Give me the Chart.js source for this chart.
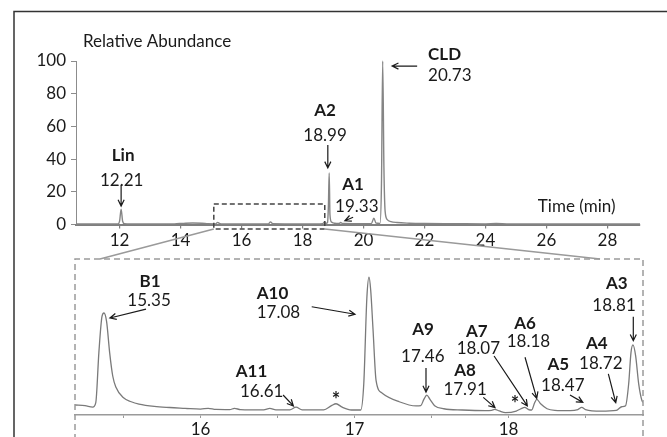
<!DOCTYPE html>
<html>
<head>
<meta charset="utf-8">
<script src="https://cdn.jsdelivr.net/npm/chart.js@4.4.0/dist/chart.umd.min.js"></script>
<style>
html,body{margin:0;padding:0;background:#fff;}
#wrap{position:relative;width:667px;height:437px;overflow:hidden;background:#fff;}
#wrap canvas{position:absolute;left:0;top:0;}
</style>
</head>
<body>
<div id="wrap">
<canvas id="topCanvas" width="667" height="437" style="width:667px;height:437px"></canvas>
<canvas id="insetCanvas" width="667" height="437" style="width:667px;height:437px"></canvas>
</div>
<script>
// ---------- DATA ----------
// Full chromatogram (time in min, relative abundance %)
const topTime = [10.57, 11.0, 11.5, 11.95, 12.0, 12.05, 12.1, 12.16, 12.6, 13.2, 13.8, 14.1, 14.4, 14.7, 14.9, 15.15, 15.22, 15.27, 15.33, 15.7, 16.3, 16.88, 16.95, 17.02, 17.6, 18.2, 18.66, 18.72, 18.77, 18.82, 18.85, 18.875, 18.9, 18.95, 19.05, 19.2, 19.25, 19.31, 19.8, 20.26, 20.34, 20.41, 20.54, 20.59, 20.63, 20.67, 20.71, 20.78, 20.9, 21.1, 21.5, 22.0, 23.0, 24.0, 24.35, 24.7, 25.5, 26.5, 27.5, 29.07];
const topAbund = [0.3, 0.3, 0.3, 0.4, 2.0, 9.3, 2.0, 0.5, 0.3, 0.3, 0.4, 0.7, 0.9, 0.8, 0.5, 0.4, 1.3, 0.7, 0.4, 0.3, 0.3, 0.4, 1.6, 0.5, 0.4, 0.3, 0.5, 1.5, 0.7, 1.2, 12, 31.5, 6, 1.5, 0.8, 0.6, 1.2, 0.6, 0.5, 0.6, 3.8, 0.9, 0.7, 25, 100, 35, 8, 3, 1.8, 1.2, 0.8, 0.6, 0.5, 0.4, 0.6, 0.4, 0.3, 0.3, 0.3, 0.3];

// Zoomed region 15.2 - 18.9 min (relative units)
const insetTime = [15.185, 15.25, 15.3, 15.32, 15.34, 15.36, 15.373, 15.39, 15.41, 15.43, 15.45, 15.5, 15.55, 15.6, 15.7, 15.8, 15.9, 16.0, 16.05, 16.1, 16.19, 16.22, 16.26, 16.41, 16.45, 16.49, 16.58, 16.62, 16.66, 16.8, 16.85, 16.88, 16.92, 16.98, 17.04, 17.06, 17.08, 17.094, 17.105, 17.12, 17.14, 17.18, 17.29, 17.4, 17.43, 17.45, 17.469, 17.49, 17.52, 17.58, 17.7, 17.85, 17.89, 17.91, 17.94, 17.98, 18.05, 18.08, 18.105, 18.13, 18.15, 18.17, 18.183, 18.21, 18.25, 18.3, 18.4, 18.45, 18.475, 18.5, 18.6, 18.7, 18.735, 18.76, 18.78, 18.795, 18.808, 18.825, 18.845, 18.865, 18.873];
const insetAbund = [6.4, 6.0, 5.1, 8, 40, 63, 65.4, 60, 40, 25, 18, 11, 8.5, 7, 5.5, 4.8, 4.3, 3.8, 4.3, 3.6, 3.5, 4.2, 3.5, 3.3, 4.2, 3.3, 3.3, 5.0, 3.3, 3.3, 6, 7.2, 5, 3.2, 3.2, 20, 75, 88.3, 80, 55, 22, 14, 8.5, 5.8, 6, 10, 12.8, 10, 6, 4.0, 3.2, 2.8, 3.0, 3.6, 2.6, 1.5, 2.5, 4, 4.9, 3.5, 3.2, 8, 10, 7, 4, 3, 2.8, 3.5, 4.9, 3.5, 2.5, 3, 5.3, 6, 20, 40, 44.9, 38, 20, 9.6, 8];

// Tick labels
const topXTicks = [12, 14, 16, 18, 20, 22, 24, 26, 28];
const topYTicks = [0, 20, 40, 60, 80, 100];
const insetXTicks = [15.5, 16, 16.5, 17, 17.5, 18, 18.5];

// Peak annotations
const topPeakNames = ['Lin', 'A2', 'A1', 'CLD'];
const topPeakRT = ['12.21', '18.99', '19.33', '20.73'];
const insetPeakNames = ['B1', 'A11', 'A10', 'A9', 'A8', 'A7', 'A6', 'A5', 'A4', 'A3'];
const insetPeakRT = ['15.35', '16.61', '17.08', '17.46', '17.91', '18.07', '18.18', '18.47', '18.72', '18.81'];
const yAxisTitle = 'Relative Abundance';
const xAxisTitle = 'Time (min)';
const zoomRange = [15.09, 18.73];

// ---------- LAYOUT (positions in data units of each panel) ----------
const topLabelLayout = [
  {nx: 12.115, ny: 41.9, rx: 12.07, ry: 27.2, align: 'center', ar: [12.05, 24.2, 12.05, 11.3]},
  {nx: 18.74, ny: 70.0, rx: 18.74, ry: 54.7, align: 'center', ar: [18.83, 48.6, 18.83, 34.6]},
  {nx: 19.66, ny: 24.2, rx: 19.78, ry: 11.3, align: 'center', ar: [19.66, 4.4, 19.39, 2.3]},
  {nx: 22.12, ny: 103.7, rx: 22.12, ry: 91.4, align: 'left', ar: [21.76, 96.9, 20.94, 96.9]}
];
const insetLabelLayout = [
  {nx: 15.672, ny: 85.3, rx: 15.666, ry: 73.3, align: 'center', ar: [15.646, 67.9, 15.412, 62.2]},
  {nx: 16.229, ny: 27.8, rx: 16.256, ry: 14.9, align: 'left', ar: [16.536, 12.8, 16.603, 5.8]},
  {nx: 16.365, ny: 78.0, rx: 16.365, ry: 65.8, align: 'left', ar: [16.722, 69.4, 17.003, 64.6]},
  {nx: 17.445, ny: 54.5, rx: 17.443, ry: 37.2, align: 'center', ar: [17.464, 30.1, 17.464, 14.7]},
  {nx: 17.718, ny: 28.4, rx: 17.718, ry: 16.5, align: 'center', ar: [17.836, 11.3, 17.912, 4.7]},
  {nx: 17.794, ny: 53.4, rx: 17.804, ry: 42.8, align: 'center', ar: [17.906, 37.8, 18.122, 5.8]},
  {nx: 18.107, ny: 58.8, rx: 18.129, ry: 47.4, align: 'center', ar: [18.107, 37.0, 18.183, 10.7]},
  {nx: 18.323, ny: 32.1, rx: 18.352, ry: 18.6, align: 'center', ar: [18.399, 12.8, 18.482, 8.1]},
  {nx: 18.573, ny: 46.0, rx: 18.599, ry: 33.1, align: 'center', ar: [18.648, 26.3, 18.696, 7.9]},
  {nx: 18.703, ny: 84.0, rx: 18.685, ry: 70.5, align: 'center', ar: [18.810, 63.0, 18.810, 47.6]}
];
const insetStars = [[16.880, 11.2], [18.042, 8.5]];

const FONT = 'Lato, "Open Sans", "DejaVu Sans", sans-serif';
const FS = 17;
const TXT = '#1a1a1a';

function toPts(xs, ys) { return xs.map((x, i) => ({x: x, y: ys[i]})); }
function P(chart, x, y) { return [chart.scales.x.getPixelForValue(x), chart.scales.y.getPixelForValue(y)]; }
function text(ctx, s, x, y, bold, align, size) {
  ctx.font = (bold ? 'bold ' : '') + (size || FS) + 'px ' + FONT;
  ctx.fillStyle = TXT;
  ctx.textAlign = align || 'center';
  ctx.textBaseline = 'middle';
  ctx.fillText(s, x, y);
}
function arrow(ctx, x1, y1, x2, y2) {
  const a = Math.atan2(y2 - y1, x2 - x1), h = 7, w = 0.45;
  ctx.beginPath();
  ctx.moveTo(x1, y1); ctx.lineTo(x2, y2);
  ctx.moveTo(x2 - h * Math.cos(a - w), y2 - h * Math.sin(a - w));
  ctx.lineTo(x2, y2);
  ctx.lineTo(x2 - h * Math.cos(a + w), y2 - h * Math.sin(a + w));
  ctx.strokeStyle = '#1a1a1a'; ctx.lineWidth = 1.2; ctx.setLineDash([]);
  ctx.stroke();
}
function drawLabels(chart, names, rts, layout) {
  const ctx = chart.ctx;
  layout.forEach((L, i) => {
    const n = P(chart, L.nx, L.ny), r = P(chart, L.rx, L.ry);
    text(ctx, names[i], n[0], n[1], true, L.align);
    text(ctx, rts[i], r[0], r[1], false, L.align);
    const a = P(chart, L.ar[0], L.ar[1]), b = P(chart, L.ar[2], L.ar[3]);
    arrow(ctx, a[0], a[1], b[0], b[1]);
  });
}

const topDecor = {
  id: 'topDecor',
  afterDraw(chart) {
    const ctx = chart.ctx;
    ctx.save();
    // outer frame
    ctx.strokeStyle = '#333'; ctx.lineWidth = 1.5; ctx.setLineDash([]);
    ctx.strokeRect(14, 11.5, 720, 500);
    // axis titles
    text(ctx, yAxisTitle, chart.chartArea.left + 7, chart.chartArea.top - 19.5, false, 'left');
    const t2 = P(chart, 25.72, 11.3);
    text(ctx, xAxisTitle, t2[0], t2[1], false, 'left');
    drawLabels(chart, topPeakNames, topPeakRT, topLabelLayout);
    // dashed zoom box
    const a = P(chart, zoomRange[0], 12.5), b = P(chart, zoomRange[1], -2.75);
    ctx.strokeStyle = '#444'; ctx.lineWidth = 1.5; ctx.setLineDash([5, 3]);
    ctx.strokeRect(a[0], a[1], b[0] - a[0], b[1] - a[1]);
    ctx.restore();
  }
};

const topChart = new Chart(document.getElementById('topCanvas'), {
  type: 'line',
  data: {datasets: [{data: toPts(topTime, topAbund), borderColor: '#858585', borderWidth: 1.4, pointRadius: 0, cubicInterpolationMode: 'monotone', fill: false, clip: false}]},
  options: {
    responsive: false, animation: false, devicePixelRatio: 1,
    layout: {padding: {left: 36, right: 27, top: 61, bottom: 182.5}},
    plugins: {legend: {display: false}, tooltip: {enabled: false}, title: {display: false}},
    scales: {
      x: {
        type: 'linear', min: 10.57, max: 29.07,
        afterBuildTicks: s => { s.ticks = topXTicks.map(v => ({value: v})); },
        afterFit: s => { s.height = 30; },
        grid: {drawOnChartArea: false, drawTicks: true, tickLength: 4, color: '#7f7f7f', lineWidth: 1.2},
        border: {color: '#7f7f7f', width: 2},
        ticks: {font: {family: FONT, size: FS}, color: TXT, padding: 2, maxRotation: 0, autoSkip: false}
      },
      y: {
        type: 'linear', min: 0, max: 100,
        afterBuildTicks: s => { s.ticks = topYTicks.map(v => ({value: v})); },
        afterFit: s => { s.width = 40; },
        grid: {drawOnChartArea: false, drawTicks: true, tickLength: 5, color: '#8c8c8c'},
        border: {color: '#8c8c8c', width: 1},
        ticks: {font: {family: FONT, size: FS}, color: TXT, padding: 5, autoSkip: false}
      }
    }
  },
  plugins: [topDecor]
});

const insetDecor = {
  id: 'insetDecor',
  afterDraw(chart) {
    const ctx = chart.ctx, ca = chart.chartArea;
    ctx.save();
    // dashed inset frame
    ctx.strokeStyle = '#9a9a9a'; ctx.lineWidth = 1.5; ctx.setLineDash([6, 4]);
    ctx.beginPath();
    ctx.moveTo(ca.left, 460); ctx.lineTo(ca.left, ca.top); ctx.lineTo(ca.right, ca.top); ctx.lineTo(ca.right, 460);
    ctx.stroke();
    // connector lines from the zoom box of the full chromatogram
    ctx.setLineDash([]); ctx.strokeStyle = '#9a9a9a'; ctx.lineWidth = 1.5;
    const a = P(topChart, zoomRange[0], -2.75), b = P(topChart, zoomRange[1], -2.75);
    ctx.beginPath();
    ctx.moveTo(a[0], a[1]); ctx.lineTo(chart.scales.x.getPixelForValue(15.347), ca.top);
    ctx.moveTo(b[0], b[1]); ctx.lineTo(chart.scales.x.getPixelForValue(18.594), ca.top);
    ctx.stroke();
    drawLabels(chart, insetPeakNames, insetPeakRT, insetLabelLayout);
    insetStars.forEach(s => { const p = P(chart, s[0], s[1]); text(ctx, '*', p[0], p[1] + 3, true, 'center', 20); });
    ctx.restore();
  }
};

const insetChart = new Chart(document.getElementById('insetCanvas'), {
  type: 'line',
  data: {datasets: [{data: toPts(insetTime, insetAbund), borderColor: '#7a7a7a', borderWidth: 1.3, pointRadius: 0, cubicInterpolationMode: 'monotone', fill: false}]},
  options: {
    responsive: false, animation: false, devicePixelRatio: 1,
    layout: {padding: {left: 75, right: 24, top: 259, bottom: 0}},
    plugins: {legend: {display: false}, tooltip: {enabled: false}, title: {display: false}},
    scales: {
      x: {
        type: 'linear', min: 15.185, max: 18.873,
        afterBuildTicks: s => { s.ticks = insetXTicks.map(v => ({value: v})); },
        afterFit: s => { s.height = 22; },
        grid: {drawOnChartArea: false, drawTicks: true, tickLength: 3, color: '#9a9a9a'},
        border: {color: '#9a9a9a', width: 1.5},
        ticks: {font: {family: FONT, size: FS}, color: TXT, padding: 1, maxRotation: 0, autoSkip: false,
          callback: v => (Number.isInteger(v) ? String(v) : '')}
      },
      y: {type: 'linear', min: 0, max: 100, display: false}
    }
  },
  plugins: [insetDecor]
});
</script>
</body>
</html>
